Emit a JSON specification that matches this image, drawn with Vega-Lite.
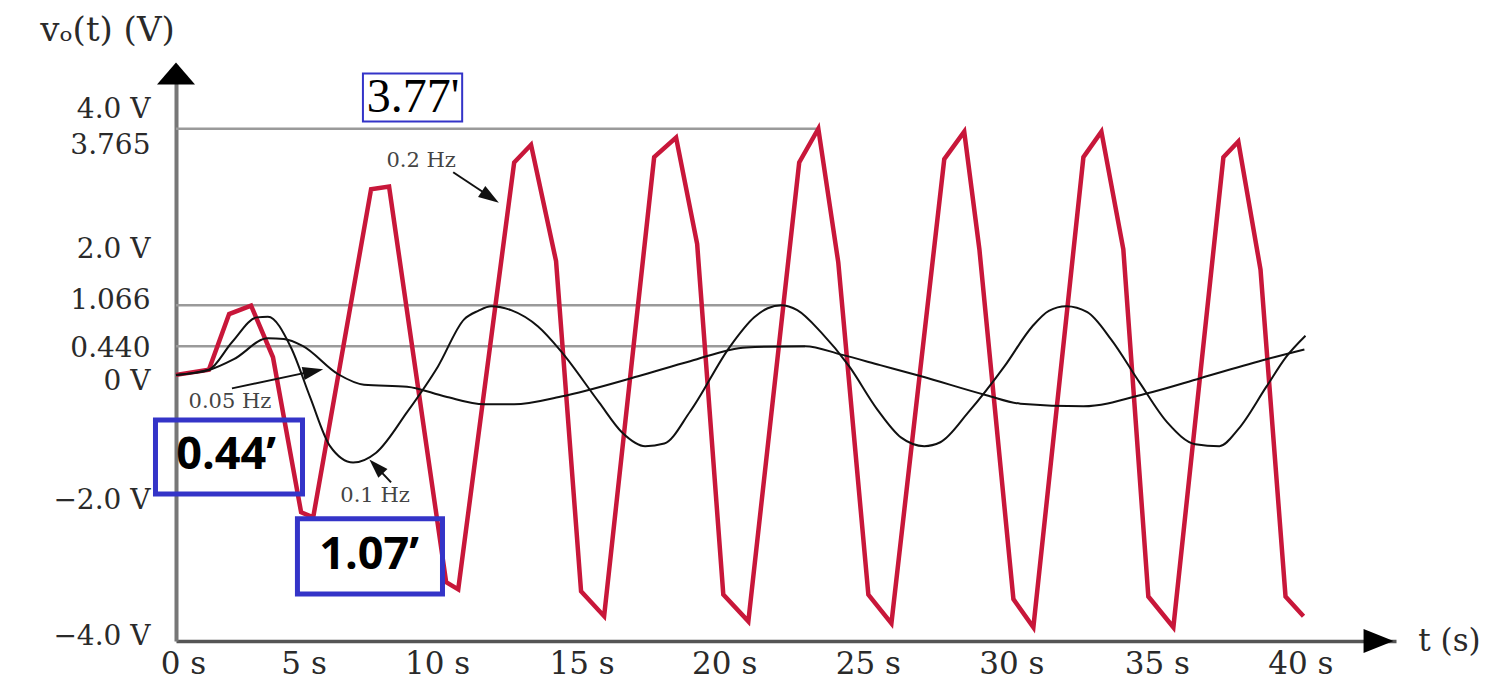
{
  "$schema": "https://vega.github.io/schema/vega-lite/v6.json",
  "width": 1220,
  "height": 576,
  "autosize": {"type": "none"},
  "padding": {"left": 176, "top": 65, "right": 92, "bottom": 42},
  "background": "white",
  "config": {"view": {"stroke": null}},
  "datasets": {
    "waves": [
      {"s": "0.2 Hz", "t": 0, "v": 0}, {"s": "0.2 Hz", "t": 1.17, "v": 0.08}, {"s": "0.2 Hz", "t": 1.89, "v": 0.93}, {"s": "0.2 Hz", "t": 2.67, "v": 1.06}, {"s": "0.2 Hz", "t": 3.45, "v": 0.27}, {"s": "0.2 Hz", "t": 4.45, "v": -2.1}, {"s": "0.2 Hz", "t": 4.88, "v": -2.18}, {"s": "0.2 Hz", "t": 6.94, "v": 2.84}, {"s": "0.2 Hz", "t": 7.58, "v": 2.88}, {"s": "0.2 Hz", "t": 9.61, "v": -3.17}, {"s": "0.2 Hz", "t": 10.04, "v": -3.28}, {"s": "0.2 Hz", "t": 12.03, "v": 3.25}, {"s": "0.2 Hz", "t": 12.63, "v": 3.52}, {"s": "0.2 Hz", "t": 13.52, "v": 1.74}, {"s": "0.2 Hz", "t": 14.41, "v": -3.31}, {"s": "0.2 Hz", "t": 15.23, "v": -3.69}, {"s": "0.2 Hz", "t": 17.01, "v": 3.33}, {"s": "0.2 Hz", "t": 17.79, "v": 3.63}, {"s": "0.2 Hz", "t": 18.54, "v": 2.0}, {"s": "0.2 Hz", "t": 19.47, "v": -3.36}, {"s": "0.2 Hz", "t": 20.36, "v": -3.77}, {"s": "0.2 Hz", "t": 22.17, "v": 3.25}, {"s": "0.2 Hz", "t": 22.85, "v": 3.765}, {"s": "0.2 Hz", "t": 23.56, "v": 1.72}, {"s": "0.2 Hz", "t": 24.63, "v": -3.36}, {"s": "0.2 Hz", "t": 25.45, "v": -3.8}, {"s": "0.2 Hz", "t": 27.33, "v": 3.3}, {"s": "0.2 Hz", "t": 28.04, "v": 3.72}, {"s": "0.2 Hz", "t": 28.58, "v": 1.92}, {"s": "0.2 Hz", "t": 29.79, "v": -3.43}, {"s": "0.2 Hz", "t": 30.5, "v": -3.86}, {"s": "0.2 Hz", "t": 32.28, "v": 3.33}, {"s": "0.2 Hz", "t": 32.92, "v": 3.72}, {"s": "0.2 Hz", "t": 33.7, "v": 1.92}, {"s": "0.2 Hz", "t": 34.59, "v": -3.39}, {"s": "0.2 Hz", "t": 35.48, "v": -3.86}, {"s": "0.2 Hz", "t": 37.26, "v": 3.33}, {"s": "0.2 Hz", "t": 37.79, "v": 3.57}, {"s": "0.2 Hz", "t": 38.58, "v": 1.61}, {"s": "0.2 Hz", "t": 39.47, "v": -3.39}, {"s": "0.2 Hz", "t": 40.11, "v": -3.69},
      {"s": "0.1 Hz", "t": 0, "v": 0}, {"s": "0.1 Hz", "t": 1.17, "v": 0.08}, {"s": "0.1 Hz", "t": 1.99, "v": 0.5}, {"s": "0.1 Hz", "t": 2.88, "v": 0.88}, {"s": "0.1 Hz", "t": 3.27, "v": 0.89}, {"s": "0.1 Hz", "t": 4.09, "v": 0.42}, {"s": "0.1 Hz", "t": 4.77, "v": -0.34}, {"s": "0.1 Hz", "t": 5.48, "v": -1.09}, {"s": "0.1 Hz", "t": 6.3, "v": -1.34}, {"s": "0.1 Hz", "t": 7.12, "v": -1.19}, {"s": "0.1 Hz", "t": 8.22, "v": -0.57}, {"s": "0.1 Hz", "t": 9.32, "v": 0.13}, {"s": "0.1 Hz", "t": 10.25, "v": 0.85}, {"s": "0.1 Hz", "t": 10.75, "v": 0.98}, {"s": "0.1 Hz", "t": 11.21, "v": 1.05}, {"s": "0.1 Hz", "t": 11.92, "v": 0.99}, {"s": "0.1 Hz", "t": 12.88, "v": 0.74}, {"s": "0.1 Hz", "t": 13.7, "v": 0.36}, {"s": "0.1 Hz", "t": 15.05, "v": -0.42}, {"s": "0.1 Hz", "t": 15.87, "v": -0.88}, {"s": "0.1 Hz", "t": 16.69, "v": -1.09}, {"s": "0.1 Hz", "t": 17.37, "v": -1.05}, {"s": "0.1 Hz", "t": 18.29, "v": -0.56}, {"s": "0.1 Hz", "t": 19.72, "v": 0.44}, {"s": "0.1 Hz", "t": 20.57, "v": 0.88}, {"s": "0.1 Hz", "t": 21.05, "v": 1.02}, {"s": "0.1 Hz", "t": 21.53, "v": 1.066}, {"s": "0.1 Hz", "t": 22.1, "v": 0.99}, {"s": "0.1 Hz", "t": 22.95, "v": 0.65}, {"s": "0.1 Hz", "t": 23.95, "v": 0.13}, {"s": "0.1 Hz", "t": 24.95, "v": -0.53}, {"s": "0.1 Hz", "t": 25.8, "v": -0.96}, {"s": "0.1 Hz", "t": 26.62, "v": -1.09}, {"s": "0.1 Hz", "t": 27.19, "v": -1.03}, {"s": "0.1 Hz", "t": 28.19, "v": -0.57}, {"s": "0.1 Hz", "t": 29.47, "v": 0.13}, {"s": "0.1 Hz", "t": 30.46, "v": 0.74}, {"s": "0.1 Hz", "t": 31.05, "v": 0.98}, {"s": "0.1 Hz", "t": 31.67, "v": 1.05}, {"s": "0.1 Hz", "t": 32.42, "v": 0.96}, {"s": "0.1 Hz", "t": 33.27, "v": 0.54}, {"s": "0.1 Hz", "t": 34.27, "v": -0.11}, {"s": "0.1 Hz", "t": 35.27, "v": -0.73}, {"s": "0.1 Hz", "t": 36.26, "v": -1.06}, {"s": "0.1 Hz", "t": 37.12, "v": -1.09}, {"s": "0.1 Hz", "t": 37.79, "v": -0.83}, {"s": "0.1 Hz", "t": 38.79, "v": -0.18}, {"s": "0.1 Hz", "t": 39.5, "v": 0.28}, {"s": "0.1 Hz", "t": 40.18, "v": 0.6},
      {"s": "0.05 Hz", "t": 0, "v": 0}, {"s": "0.05 Hz", "t": 1.21, "v": 0.08}, {"s": "0.05 Hz", "t": 2.06, "v": 0.24}, {"s": "0.05 Hz", "t": 3.27, "v": 0.56}, {"s": "0.05 Hz", "t": 3.84, "v": 0.55}, {"s": "0.05 Hz", "t": 4.52, "v": 0.44}, {"s": "0.05 Hz", "t": 5.77, "v": 0.01}, {"s": "0.05 Hz", "t": 6.69, "v": -0.15}, {"s": "0.05 Hz", "t": 8.22, "v": -0.18}, {"s": "0.05 Hz", "t": 9.57, "v": -0.33}, {"s": "0.05 Hz", "t": 10.96, "v": -0.45}, {"s": "0.05 Hz", "t": 12.03, "v": -0.45}, {"s": "0.05 Hz", "t": 13.7, "v": -0.33}, {"s": "0.05 Hz", "t": 16.44, "v": -0.02}, {"s": "0.05 Hz", "t": 18.29, "v": 0.21}, {"s": "0.05 Hz", "t": 20.28, "v": 0.42}, {"s": "0.05 Hz", "t": 22.38, "v": 0.44}, {"s": "0.05 Hz", "t": 23.67, "v": 0.31}, {"s": "0.05 Hz", "t": 25.05, "v": 0.15}, {"s": "0.05 Hz", "t": 26.51, "v": -0.02}, {"s": "0.05 Hz", "t": 28.83, "v": -0.31}, {"s": "0.05 Hz", "t": 30.04, "v": -0.44}, {"s": "0.05 Hz", "t": 32.28, "v": -0.48}, {"s": "0.05 Hz", "t": 34.56, "v": -0.28}, {"s": "0.05 Hz", "t": 36.44, "v": -0.05}, {"s": "0.05 Hz", "t": 38.79, "v": 0.24}, {"s": "0.05 Hz", "t": 40.14, "v": 0.39}
    ],
    "refs": [
      {"t": 0, "t2": 22.85, "v": 3.765},
      {"t": 0, "t2": 21.53, "v": 1.066},
      {"t": 0, "t2": 22.38, "v": 0.44}
    ],
    "boxes": [
      {"kind": "thin", "t": 6.65, "t2": 10.18, "v": 3.875, "v2": 4.61, "label": "3.77'", "tc": 8.43, "vc": 4.235},
      {"kind": "bold", "t": -0.73, "t2": 4.5, "v": -0.688, "v2": -1.82, "label": "0.44’", "tc": 1.78, "vc": -1.23},
      {"kind": "bold", "t": 4.32, "t2": 9.48, "v": -2.2, "v2": -3.35, "label": "1.07’", "tc": 6.87, "vc": -2.76}
    ],
    "curveLabels": [
      {"label": "0.2 Hz", "t": 8.72, "v": 3.265},
      {"label": "0.05 Hz", "t": 1.92, "v": -0.42},
      {"label": "0.1 Hz", "t": 7.08, "v": -1.858}
    ],
    "shafts": [
      {"name": "0.2 Hz", "t": 9.86, "v": 3.1, "t2": 11.0, "v2": 2.775},
      {"name": "0.05 Hz", "t": 1.99, "v": -0.206, "t2": 4.84, "v2": 0.054},
      {"name": "0.1 Hz", "t": 7.65, "v": -1.644, "t2": 7.08, "v2": -1.384}
    ],
    "heads": [
      {"name": "0.2 Hz", "t": 11.18, "v": 2.72},
      {"name": "0.05 Hz", "t": 4.88, "v": 0.054},
      {"name": "0.1 Hz", "t": 7.12, "v": -1.4}
    ],
    "axisArrows": [
      {"name": "y", "t": 0, "v": 4.61},
      {"name": "x", "t": 42.78, "v": -4.07}
    ]
  },
  "layer": [
    {
      "data": {"name": "refs"},
      "mark": {"type": "rule", "color": "#9a9a9a", "strokeWidth": 2.5},
      "encoding": {
        "x": {
          "field": "t", "type": "quantitative",
          "scale": {"domain": [0, 43.4], "nice": false, "zero": false},
          "axis": {
            "values": [0, 5, 10, 15, 20, 25, 30, 35, 40],
            "labelExpr": "datum.value + ' s'",
            "labelFont": "DejaVu Serif", "labelFontSize": 31, "labelColor": "#2a2a2a",
            "labelPadding": 8, "labelOverlap": false, "labelFlush": false, "labelBound": false,
            "labelOffset": {"condition": [
              {"test": "datum.value == 0", "value": 7},
              {"test": "datum.value == 5", "value": -13},
              {"test": "datum.value == 10", "value": -20},
              {"test": "datum.value == 15", "value": -16},
              {"test": "datum.value == 20", "value": -14},
              {"test": "datum.value == 25", "value": -11},
              {"test": "datum.value == 30", "value": -8},
              {"test": "datum.value == 35", "value": -3}
            ], "value": 0},
            "ticks": false, "grid": false,
            "domainColor": "#555", "domainWidth": 3.5,
            "title": "t (s)", "titleFont": "DejaVu Serif", "titleFontSize": 31, "titleFontWeight": "normal",
            "titleColor": "#2a2a2a", "titleAngle": 0, "titleAlign": "center", "titleBaseline": "middle",
            "titleX": 1273, "titleY": 0
          }
        },
        "x2": {"field": "t2"},
        "y": {
          "field": "v", "type": "quantitative",
          "scale": {"domain": [-4.07, 4.74], "nice": false, "zero": false},
          "axis": {
            "values": [-4, -2, 0, 0.44, 1.066, 2, 3.765, 4],
            "labelExpr": "datum.value == 4 ? '4.0 V' : datum.value == 3.765 ? '3.765' : datum.value == 2 ? '2.0 V' : datum.value == 1.066 ? '1.066' : datum.value == 0.44 ? '0.440' : datum.value == 0 ? '0 V' : datum.value == -2 ? '−2.0 V' : '−4.0 V'",
            "labelFont": "DejaVu Serif", "labelFontSize": 28, "labelColor": "#2a2a2a",
            "labelPadding": 26, "labelOverlap": false, "labelFlush": false, "labelBound": false,
            "labelOffset": {"condition": [
              {"test": "datum.value == 4", "value": -4},
              {"test": "datum.value == 3.765", "value": 17},
              {"test": "datum.value == 2", "value": 5},
              {"test": "datum.value == 1.066", "value": -5},
              {"test": "datum.value == 0.44", "value": 2},
              {"test": "datum.value == 0", "value": 7},
              {"test": "datum.value == -2", "value": -5}
            ], "value": 0},
            "ticks": false, "grid": false,
            "domainColor": "#777", "domainWidth": 4,
            "title": "vₒ(t) (V)", "titleFont": "DejaVu Serif", "titleFontSize": 34, "titleFontWeight": "normal",
            "titleColor": "#2a2a2a", "titleAngle": 0, "titleAlign": "center", "titleBaseline": "middle",
            "titleX": -69, "titleY": -35
          }
        }
      }
    },
    {
      "data": {"name": "waves"},
      "transform": [{"filter": "datum.s == '0.2 Hz'"}],
      "mark": {"type": "line", "color": "#c8173a", "strokeWidth": 4.5, "strokeJoin": "miter"},
      "encoding": {
        "x": {"field": "t", "type": "quantitative"},
        "y": {"field": "v", "type": "quantitative"}
      }
    },
    {
      "data": {"name": "waves"},
      "transform": [{"filter": "datum.s != '0.2 Hz'"}],
      "mark": {"type": "line", "color": "#111", "strokeWidth": 2, "interpolate": "monotone"},
      "encoding": {
        "x": {"field": "t", "type": "quantitative"},
        "y": {"field": "v", "type": "quantitative"},
        "detail": {"field": "s"}
      }
    },
    {
      "data": {"name": "shafts"},
      "mark": {"type": "rule", "color": "#111", "strokeWidth": 2},
      "encoding": {
        "x": {"field": "t", "type": "quantitative"},
        "y": {"field": "v", "type": "quantitative"},
        "x2": {"field": "t2"},
        "y2": {"field": "v2"}
      }
    },
    {
      "data": {"name": "heads"},
      "transform": [{"filter": "datum.name == '0.2 Hz'"}],
      "mark": {"type": "point", "shape": "M 1 0 L -1 -0.65 L -1 0.65 Z", "size": 420, "angle": 33, "filled": true, "fill": "#111", "opacity": 1, "strokeWidth": 0},
      "encoding": {"x": {"field": "t", "type": "quantitative"}, "y": {"field": "v", "type": "quantitative"}}
    },
    {
      "data": {"name": "heads"},
      "transform": [{"filter": "datum.name == '0.05 Hz'"}],
      "mark": {"type": "point", "shape": "M 1 0 L -1 -0.65 L -1 0.65 Z", "size": 420, "angle": -12, "filled": true, "fill": "#111", "opacity": 1, "strokeWidth": 0},
      "encoding": {"x": {"field": "t", "type": "quantitative"}, "y": {"field": "v", "type": "quantitative"}}
    },
    {
      "data": {"name": "heads"},
      "transform": [{"filter": "datum.name == '0.1 Hz'"}],
      "mark": {"type": "point", "shape": "M 1 0 L -1 -0.65 L -1 0.65 Z", "size": 380, "angle": 226, "filled": true, "fill": "#111", "opacity": 1, "strokeWidth": 0},
      "encoding": {"x": {"field": "t", "type": "quantitative"}, "y": {"field": "v", "type": "quantitative"}}
    },
    {
      "data": {"name": "axisArrows"},
      "transform": [{"filter": "datum.name == 'y'"}],
      "mark": {"type": "point", "shape": "M -1 0.58 L 0 -0.58 L 1 0.58 Z", "size": 1444, "filled": true, "fill": "#000", "opacity": 1, "strokeWidth": 0},
      "encoding": {"x": {"field": "t", "type": "quantitative"}, "y": {"field": "v", "type": "quantitative"}}
    },
    {
      "data": {"name": "axisArrows"},
      "transform": [{"filter": "datum.name == 'x'"}],
      "mark": {"type": "point", "shape": "M -1 -0.8 L 1 0 L -1 0.8 Z", "size": 900, "filled": true, "fill": "#000", "opacity": 1, "strokeWidth": 0},
      "encoding": {"x": {"field": "t", "type": "quantitative"}, "y": {"field": "v", "type": "quantitative"}}
    },
    {
      "data": {"name": "curveLabels"},
      "mark": {"type": "text", "font": "DejaVu Serif", "fontSize": 21, "color": "#444", "align": "center", "baseline": "middle"},
      "encoding": {
        "x": {"field": "t", "type": "quantitative"},
        "y": {"field": "v", "type": "quantitative"},
        "text": {"field": "label"}
      }
    },
    {
      "data": {"name": "boxes"},
      "transform": [{"filter": "datum.kind == 'thin'"}],
      "mark": {"type": "rect", "fill": null, "stroke": "#3434c8", "strokeWidth": 2},
      "encoding": {
        "x": {"field": "t", "type": "quantitative"},
        "x2": {"field": "t2"},
        "y": {"field": "v", "type": "quantitative"},
        "y2": {"field": "v2"}
      }
    },
    {
      "data": {"name": "boxes"},
      "transform": [{"filter": "datum.kind == 'bold'"}],
      "mark": {"type": "rect", "fill": null, "stroke": "#3434c8", "strokeWidth": 5},
      "encoding": {
        "x": {"field": "t", "type": "quantitative"},
        "x2": {"field": "t2"},
        "y": {"field": "v", "type": "quantitative"},
        "y2": {"field": "v2"}
      }
    },
    {
      "data": {"name": "boxes"},
      "transform": [{"filter": "datum.kind == 'thin'"}],
      "mark": {"type": "text", "font": "Liberation Serif", "fontSize": 48, "color": "#000", "align": "center", "baseline": "middle"},
      "encoding": {
        "x": {"field": "tc", "type": "quantitative"},
        "y": {"field": "vc", "type": "quantitative"},
        "text": {"field": "label"}
      }
    },
    {
      "data": {"name": "boxes"},
      "transform": [{"filter": "datum.kind == 'bold'"}],
      "mark": {"type": "text", "font": "Open Sans", "fontWeight": "bold", "fontSize": 45, "color": "#000", "align": "center", "baseline": "middle"},
      "encoding": {
        "x": {"field": "tc", "type": "quantitative"},
        "y": {"field": "vc", "type": "quantitative"},
        "text": {"field": "label"}
      }
    }
  ]
}
